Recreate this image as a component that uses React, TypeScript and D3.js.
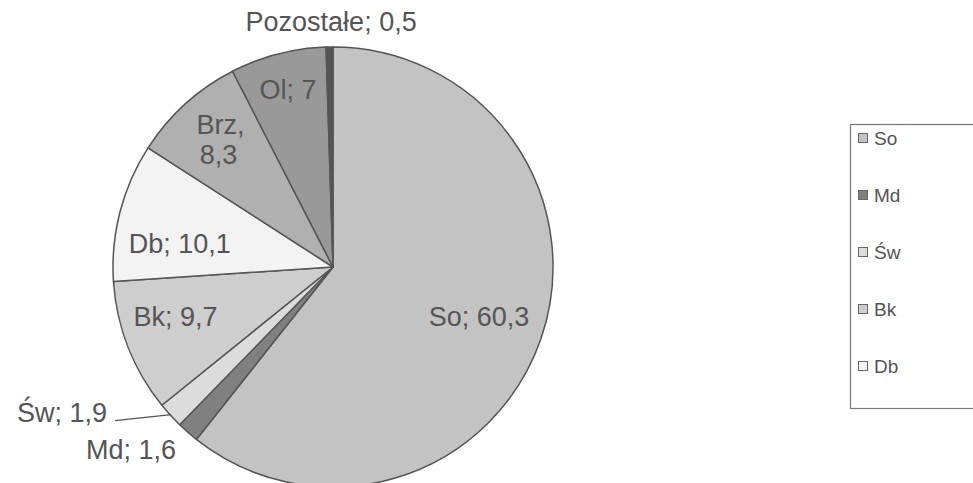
import React from "react";
import * as d3 from "d3";

const categories = ["So", "Md", "Św", "Bk", "Db", "Brz", "Ol", "Pozostałe"];
const values = [60.3, 1.6, 1.9, 9.7, 10.1, 8.3, 7, 0.5];
const colors = ["#c3c3c3", "#808080", "#dcdcdc", "#cecece", "#f3f3f3", "#b0b0b0", "#999999", "#555555"];
const legendItems = ["So", "Md", "Św", "Bk", "Db"];

const W = 973;
const H = 483;
const cx = 333;
const cy = 267;
const R = 220;
const textColor = "#555555";
const font = "'Liberation Sans', Arial, sans-serif";

const fmt = (v: number) => String(v).replace(".", ",");

export default function App() {
  const data = categories.map((c, i) => ({ name: c, value: values[i], color: colors[i] }));
  const pie = d3.pie<any>().value((d: any) => d.value).sort(null);
  const arcs = pie(data);
  const arc = d3.arc<any>().innerRadius(0).outerRadius(R);

  // label placement: [radius as fraction of R, angular shift in degrees]
  const labelPlace: Record<string, [number, number]> = {
    So: [0.7, -0.7],
    Bk: [0.75, 4],
    Db: [0.705, -5.5],
    Brz: [0.77, 0.6],
    Ol: [0.835, 0.3],
    Md: [1.236, 6.7],
  };

  const pos = (a: any, r: number, shiftDeg = 0) => {
    const m = (a.startAngle + a.endAngle) / 2 + (shiftDeg * Math.PI) / 180;
    return [Math.sin(m) * r, -Math.cos(m) * r];
  };

  const labels: React.ReactNode[] = [];
  arcs.forEach((a: any, i: number) => {
    const name = a.data.name;
    const txt = `${name}; ${fmt(a.data.value)}`;
    if (labelPlace[name] !== undefined) {
      const [f, s] = labelPlace[name];
      const [x, y] = pos(a, R * f, s);
      if (name === "Brz") {
        labels.push(
          <text key={i} x={x} y={y} textAnchor="middle" fill={textColor} fontSize={27} fontFamily={font}>
            <tspan x={x} dy="-0.25em">{name + ","}</tspan>
            <tspan x={x - 2} dy="1.12em">{fmt(a.data.value)}</tspan>
          </text>
        );
      } else {
        labels.push(
          <text key={i} x={x} y={y} dy="0.36em" textAnchor="middle" fill={textColor} fontSize={27} fontFamily={font}>
            {txt}
          </text>
        );
      }
    } else if (name === "Pozostałe") {
      const [x, y] = pos(a, R + 26);
      labels.push(
        <text key={i} x={x + 2} y={y} dy="0.36em" textAnchor="middle" fill={textColor} fontSize={27} fontFamily={font}>
          {txt}
        </text>
      );
    } else if (name === "Św") {
      const [ex, ey] = pos(a, R - 1);
      const lx = -218;
      const ly = ey + 6;
      labels.push(
        <g key={i}>
          <path d={`M${ex},${ey} L${lx},${ly}`} stroke={textColor} strokeWidth={1.2} fill="none" />
          <text x={lx - 8} y={ly - 8} dy="0.36em" textAnchor="end" fill={textColor} fontSize={27} fontFamily={font}>
            {txt}
          </text>
        </g>
      );
    }
  });

  return (
    <svg width={W} height={H} style={{ position: "absolute", left: 0, top: 0, background: "#fff" }}>
      <rect width={W} height={H} fill="#fff" />
      <g transform={`translate(${cx},${cy})`}>
        {arcs.map((a: any, i: number) => (
          <path key={i} d={arc(a) as string} fill={a.data.color} stroke="#555" strokeWidth={1.5} strokeLinejoin="round" />
        ))}
        {labels}
      </g>
      <g>
        <rect x={850.5} y={124.5} width={140} height={284} fill="#fff" stroke="#777" strokeWidth={1.2} />
        {legendItems.map((n, i) => {
          const y = 138 + i * 57;
          const c = colors[categories.indexOf(n)];
          return (
            <g key={n}>
              <rect x={858.5} y={y - 4.5} width={9} height={9} fill={c} stroke="#666" strokeWidth={1} />
              <text x={874} y={y} dy="0.36em" fill={textColor} fontSize={19} fontFamily={font}>
                {n}
              </text>
            </g>
          );
        })}
      </g>
    </svg>
  );
}
